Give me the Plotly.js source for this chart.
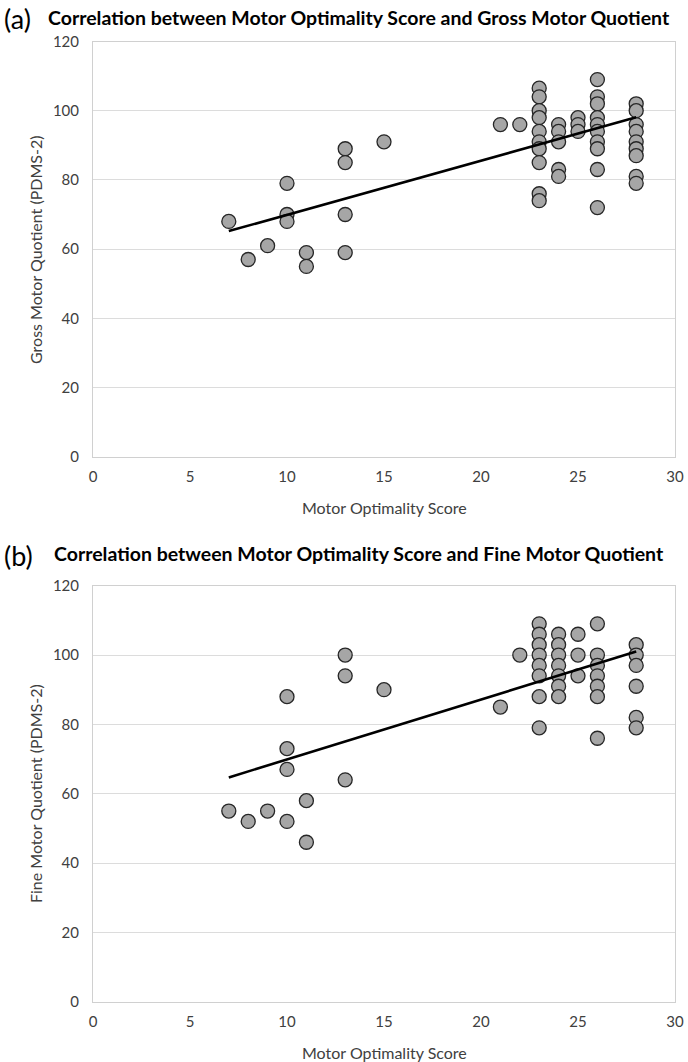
<!DOCTYPE html>
<html>
<head>
<meta charset="utf-8">
<script src="https://cdn.plot.ly/plotly-3.0.1.min.js"></script>
<style>html,body{margin:0;padding:0;background:#fff;}#chart{width:688px;height:1062px;}</style>
</head>
<body>
<div id="chart"></div>
<script>
// Panel (a): Motor Optimality Score vs Gross Motor Quotient
const grossX = [7,8,9,10,10,10,11,11,13,13,13,13,15,21,22,
  23,23,23,23,23,23,23,23,23,23,
  24,24,24,24,24,
  25,25,25,
  26,26,26,26,26,26,26,26,26,26,
  28,28,28,28,28,28,28,28,28];
const grossY = [68,57,61,79,70,68,59,55,89,85,70,59,91,96,96,
  106.5,104,100,98,94,91,89,85,76,74,
  96,94,91,83,81,
  98,96,94,
  109,104,102,98,96,94,91,89,83,72,
  102,100,96,94,91,89,87,81,79];
const grossTrendX = [7, 28];
const grossTrendY = [65.2, 98.1];

// Panel (b): Motor Optimality Score vs Fine Motor Quotient
const fineX = [7,8,9,10,10,10,10,11,11,13,13,13,15,21,22,
  23,23,23,23,23,23,23,23,
  24,24,24,24,24,24,24,
  25,25,25,
  26,26,26,26,26,26,26,
  28,28,28,28,28,28];
const fineY = [55,52,55,88,73,67,52,58,46,100,94,64,90,85,100,
  109,106,103,100,97,94,88,79,
  106,103,100,97,94,91,88,
  106,100,94,
  109,100,97,94,91,88,76,
  103,100,97,91,82,79];
const fineTrendX = [7, 28];
const fineTrendY = [64.7, 101];

const xTicks = [0,5,10,15,20,25,30];
const yTicks = [0,20,40,60,80,100,120];

const panelLetters = ["(a)", "(b)"];
const panelTitles = ["Correlation between Motor Optimality Score and Gross Motor Quotient",
                     "Correlation between Motor Optimality Score and Fine Motor Quotient"];
const xTitle = "Motor Optimality Score";
const yTitles = ["Gross Motor Quotient (PDMS-2)", "Fine Motor Quotient (PDMS-2)"];

const FONT = "Lato, 'Open Sans', sans-serif";
const marker = {size: 14, color: '#a6a6a6', line: {color: '#262626', width: 1.3}};
const trendLine = {color: '#000000', width: 2.6};

const data = [
  {x: grossX, y: grossY, type: 'scatter', mode: 'markers', marker: marker, xaxis: 'x', yaxis: 'y', cliponaxis: false},
  {x: grossTrendX, y: grossTrendY, type: 'scatter', mode: 'lines', line: trendLine, xaxis: 'x', yaxis: 'y'},
  {x: fineX, y: fineY, type: 'scatter', mode: 'markers', marker: marker, xaxis: 'x2', yaxis: 'y2', cliponaxis: false},
  {x: fineTrendX, y: fineTrendY, type: 'scatter', mode: 'lines', line: trendLine, xaxis: 'x2', yaxis: 'y2'}
];

function xAxis(anchor) {
  return {
    domain: [93/688, 675/688], range: [0, 30], anchor: anchor,
    tickvals: xTicks, ticktext: xTicks.map(String), ticks: '',
    showgrid: false, zeroline: false,
    showline: true, mirror: true, linecolor: '#d0d0d0', linewidth: 1,
    tickfont: {family: FONT, size: 15, color: '#404040'},
    ticklabelstandoff: 6, fixedrange: true
  };
}
function yAxis(anchor, top, bottom) {
  return {
    domain: [1 - bottom/1062, 1 - top/1062], range: [0, 120], anchor: anchor,
    tickvals: yTicks, ticktext: yTicks.map(String), ticks: '',
    showgrid: true, gridcolor: '#dcdcdc', gridwidth: 1, zeroline: false,
    showline: true, mirror: true, linecolor: '#d0d0d0', linewidth: 1,
    tickfont: {family: FONT, size: 15, color: '#404040'},
    ticklabelstandoff: 10, fixedrange: true
  };
}

const ann = [];
const titleY = [18, 554];
const axTitleY = [507, 1052];
const yTitleY = [250, 794];
for (let i = 0; i < 2; i++) {
  ann.push({text: panelLetters[i], xref: 'paper', yref: 'paper', x: 2/688, y: 1 - (titleY[i] + 1)/1062,
    xanchor: 'left', yanchor: 'middle', showarrow: false,
    font: {family: FONT, size: 27, color: '#000'}});
  ann.push({text: '<b>' + panelTitles[i] + '</b>', xref: 'paper', yref: 'paper',
    x: (i === 0 ? 46 : 52)/688, y: 1 - (titleY[i] - 1)/1062,
    xanchor: 'left', yanchor: 'middle', showarrow: false,
    font: {family: FONT, size: 19.5, color: '#000'}});
  ann.push({text: xTitle, xref: 'paper', yref: 'paper', x: 384/688, y: 1 - axTitleY[i]/1062,
    xanchor: 'center', yanchor: 'middle', showarrow: false,
    font: {family: FONT, size: 16, color: '#404040'}});
  ann.push({text: yTitles[i], xref: 'paper', yref: 'paper', x: 35/688, y: 1 - yTitleY[i]/1062,
    xanchor: 'center', yanchor: 'middle', showarrow: false, textangle: -90,
    font: {family: FONT, size: 16, color: '#404040'}});
}

const layout = {
  width: 688, height: 1062,
  margin: {l: 0, r: 0, t: 0, b: 0},
  paper_bgcolor: '#ffffff', plot_bgcolor: '#ffffff',
  showlegend: false,
  xaxis: xAxis('y'),
  yaxis: yAxis('x', 41.5, 456.7),
  xaxis2: xAxis('y2'),
  yaxis2: yAxis('x2', 585.7, 1001.7),
  annotations: ann
};

Plotly.newPlot('chart', data, layout, {displayModeBar: false, staticPlot: true});
</script>
</body>
</html>
